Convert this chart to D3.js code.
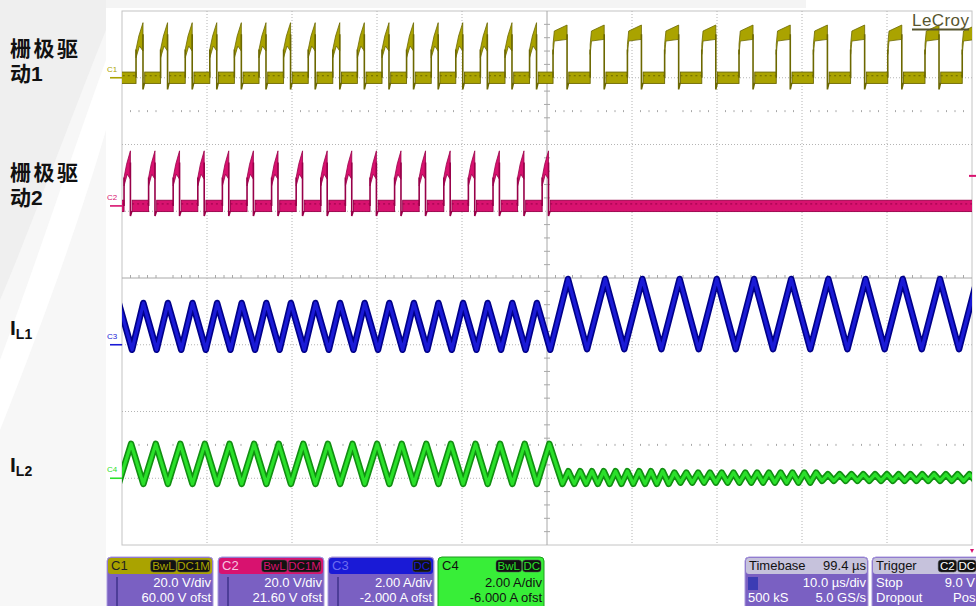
<!DOCTYPE html>
<html>
<head>
<meta charset="utf-8">
<script src="https://cdn.jsdelivr.net/npm/d3@7"></script>
<style>
  body { margin: 0; background: #fff; }
  svg { display: block; }
</style>
</head>
<body>
<div id="scope"></div>
<script>
// ---- channel setup ----
var chNames    = ["C1", "C2", "C3", "C4"];
var chPerDiv   = [20, 20, 2, 2];
var chOffset   = [60, 21.6, -2, -6];
var chUnit     = ["V", "V", "A", "A"];
var chCoupling = ["DC1M", "DC1M", "DC", "DC"];
var chBwl      = [true, true, false, true];
var chLabels   = [["栅极驱", "动1"], ["栅极驱", "动2"], ["I", "L1"], ["I", "L2"]];

// ---- gate drive 1 (C1): switching edges in us, trigger at 0 ----
var c1Rise = [-48.35, -45.46, -42.56, -39.67, -36.78, -33.88, -30.99, -28.09, -25.20, -22.31,
              -19.41, -16.52, -13.62, -10.73, -7.84, -4.94, -2.05,
              0.71, 5.08, 9.46, 13.84, 18.21, 22.59, 26.97, 31.34, 35.72, 40.09, 44.47, 48.85];
var c1Fall = [-47.53, -44.64, -41.74, -38.85, -35.96, -33.06, -30.17, -27.27, -24.38, -21.49,
              -18.59, -15.70, -12.80, -9.91, -7.02, -4.12, -1.23,
              2.36, 6.73, 11.11, 15.49, 19.86, 24.24, 28.62, 32.99, 37.37, 41.74, 46.12, 50.50];
// ---- gate drive 2 (C2) ----
var c2Rise = [-49.76, -46.87, -43.98, -41.08, -38.19, -35.29, -32.40, -29.51, -26.61, -23.72,
              -20.82, -17.93, -15.04, -12.14, -9.25, -6.35, -3.46, -0.57];
var c2Fall = [-49.01, -46.12, -43.23, -40.33, -37.44, -34.54, -31.65, -28.76, -25.86, -22.97,
              -20.07, -17.18, -14.29, -11.39, -8.50, -5.60, -2.71, 0.18];
var gateHigh = [15, 15];      // V, top of pulse
var gateUnder = [-3.5, -3];   // V, undershoot at turn-off

// ---- inductor current 1 (C3) ----
var il1PeakT = [-50.38, -47.49, -44.60, -41.70, -38.81, -35.92, -33.02, -30.13, -27.24, -24.34,
                -21.45, -18.55, -15.66, -12.77, -9.87, -6.98, -4.08, -1.19,
                2.47, 6.85, 11.22, 15.60, 19.97, 24.35, 28.73, 33.10, 37.48, 41.85, 46.23, 50.61];
var il1TroughT = [-48.82, -45.93, -43.03, -40.14, -37.24, -34.35, -31.46, -28.56, -25.67, -22.77,
                  -19.88, -16.99, -14.09, -11.20, -8.30, -5.41, -2.52, 0.38,
                  4.71, 9.09, 13.46, 17.84, 22.21, 26.59, 30.97, 35.34, 39.72, 44.09, 48.47];
var il1PeakA = [1.25, 1.97];      // before / after trigger
var il1TroughA = [-0.15, -0.13];

// ---- inductor current 2 (C4) ----
var il2PeakT = [-48.93, -46.03, -43.14, -40.25, -37.35, -34.46, -31.56, -28.67, -25.78, -22.88,
                -19.99, -17.09, -14.20, -11.31, -8.41, -5.52, -2.62, 0.27];
var il2TroughT = [-50.39, -47.49, -44.60, -41.71, -38.81, -35.92, -33.02, -30.13, -27.24, -24.34,
                  -21.45, -18.55, -15.66, -12.77, -9.87, -6.98, -4.08, -1.19];
var il2PeakA = 1.03, il2TroughA = -0.17;
// small ripple after gate 2 stops
var ripPeakT = [2.51, 3.90, 5.29, 6.67, 8.06, 9.45, 10.84, 12.23, 13.61, 15.00, 16.39, 17.78,
                19.17, 20.55, 21.94, 23.33, 24.72, 26.11, 27.49, 28.88, 30.27, 31.66, 33.05,
                34.43, 35.82, 37.21, 38.60, 39.99, 41.37, 42.76, 44.15, 45.54, 46.93, 48.31, 49.70];
var ripTroughT = [1.82, 3.21, 4.60, 5.98, 7.37, 8.76, 10.15, 11.54, 12.92, 14.31, 15.70, 17.09,
                  18.48, 19.86, 21.25, 22.64, 24.03, 25.42, 26.80, 28.19, 29.58, 30.97, 32.36,
                  33.74, 35.13, 36.52, 37.91, 39.30, 40.68, 42.07, 43.46, 44.85, 46.24, 47.62,
                  49.01, 50.40];
var ripBreaks = [0, 15, 32, 52];
var ripPeakA = [0.21, 0.17, 0.12];
var ripTroughA = [-0.17, -0.13, -0.08];

// readout boxes
var tbText = ["Timebase", "99.4 µs", "10.0 µs/div", "500 kS", "5.0 GS/s"];
var trigText = ["Trigger", "C2", "DC", "Stop", "9.0 V", "Dropout", "Pos"];

var width = 976, height = 606;
var colors = ["#aaa300", "#d8126f", "#1a1ad6", "#2ae02a"];
var darks  = ["#6c6800", "#980049", "#00008a", "#119011"];

var svg = d3.select("#scope").append("svg")
    .attr("width", width)
    .attr("height", height)
    .style("font-family", "'Liberation Sans', Arial, sans-serif");

// slide background on the left
svg.append("rect").attr("x", 0).attr("y", 0).attr("width", 106).attr("height", height).attr("fill", "#efefef");
svg.append("path")
    .attr("d", "M0,300 C30,230 70,120 106,30 L106,606 L0,606 Z")
    .attr("fill", "#f7f7f7");
svg.append("path")
    .attr("d", "M0,360 C30,280 70,160 106,60 L106,130 C80,220 40,330 0,430 Z")
    .attr("fill", "#ffffff");
svg.append("rect").attr("x", 106).attr("y", 0).attr("width", 700).attr("height", 8).attr("fill", "#f4f4f4");

// graticule
var gx0 = 122, gx1 = 972, gy0 = 11, gy1 = 545;
var x = d3.scaleLinear().domain([-50, 50]).range([gx0, gx1]);
var div = d3.scaleLinear().domain([-4, 4]).range([gy1, gy0]);
var xDiv = d3.scaleLinear().domain([-5, 5]).range([gx0, gx1]);

function chScale(i) {
    return d3.scaleLinear()
        .domain([-4 * chPerDiv[i] - chOffset[i], 4 * chPerDiv[i] - chOffset[i]])
        .range([gy1, gy0]);
}
var ys = chNames.map(function(d, i) { return chScale(i); });

var grid = svg.append("g").attr("class", "grid");
grid.append("rect")
    .attr("x", gx0).attr("y", gy0).attr("width", gx1 - gx0).attr("height", gy1 - gy0)
    .attr("fill", "#fff").attr("stroke", "#c4c4c4");

d3.range(-4, 5).filter(function(d) { return d !== 0; }).forEach(function(d) {
    grid.append("line")
        .attr("x1", xDiv(d)).attr("x2", xDiv(d)).attr("y1", gy0).attr("y2", gy1)
        .attr("stroke", "#b4b4b4").attr("stroke-dasharray", "1,2");
});
d3.range(-3, 4).filter(function(d) { return d !== 0; }).forEach(function(d) {
    grid.append("line")
        .attr("x1", gx0).attr("x2", gx1).attr("y1", div(d)).attr("y2", div(d))
        .attr("stroke", "#b4b4b4").attr("stroke-dasharray", "1,2");
});
// centre cross with minor ticks
grid.append("line").attr("x1", xDiv(0)).attr("x2", xDiv(0)).attr("y1", gy0).attr("y2", gy1).attr("stroke", "#a8a8a8");
grid.append("line").attr("x1", gx0).attr("x2", gx1).attr("y1", div(0)).attr("y2", div(0)).attr("stroke", "#a8a8a8");
d3.range(-50, 51).forEach(function(k) {
    var v = k / 5;
    if (k % 5 === 0) return;
    // ticks along the horizontal centre + the two tick rows
    [0, 2.5, -2.5].forEach(function(r) {
        grid.append("line")
            .attr("x1", xDiv(v / 2)).attr("x2", xDiv(v / 2))
            .attr("y1", div(r) - (r === 0 ? 3 : 1)).attr("y2", div(r) + (r === 0 ? 0 : 1))
            .attr("stroke", "#a8a8a8");
    });
});
d3.range(-20, 21).forEach(function(k) {
    if (k % 5 === 0) return;
    grid.append("line")
        .attr("x1", xDiv(0) - 3).attr("x2", xDiv(0) + 3)
        .attr("y1", div(k / 5)).attr("y2", div(k / 5))
        .attr("stroke", "#a8a8a8");
});

svg.append("clipPath").attr("id", "screen")
    .append("rect").attr("x", gx0).attr("y", gy0).attr("width", gx1 - gx0).attr("height", gy1 - gy0);
var traces = svg.append("g").attr("clip-path", "url(#screen)");

// ---- gate traces ----
function drawGate(ch, rise, fall, high, under) {
    var y = ys[ch];
    var g = traces.append("g");
    // flat low level (noisy band)
    var lows = [];
    var start = -50.5;
    rise.forEach(function(r, i) {
        lows.push([start, r]);
        start = fall[i] + 0.2;
    });
    lows.push([start, 51]);
    g.selectAll("rect.low").data(lows).enter().append("rect")
        .attr("class", "low")
        .attr("x", function(d) { return x(d[0]); })
        .attr("width", function(d) { return Math.max(0, x(d[1]) - x(d[0])); })
        .attr("y", y(1.7))
        .attr("height", y(-1.7) - y(1.7))
        .attr("fill", colors[ch])
        .attr("stroke", darks[ch])
        .attr("stroke-width", 0.9);
    g.selectAll("line.mid").data(lows).enter().append("line")
        .attr("x1", function(d) { return x(d[0]); })
        .attr("x2", function(d) { return x(d[1]); })
        .attr("y1", y(0.6)).attr("y2", y(0.6))
        .attr("stroke", darks[ch]).attr("stroke-width", 1).attr("stroke-dasharray", "2,3");

    rise.forEach(function(r, i) {
        var f = fall[i], w = f - r;
        var wide = w > 1.2;
        // top of the pulse
        var top = wide
            ? [[r, 10], [r + 0.15, 14], [f, 15.8], [f, 11.5], [r + 0.15, 11], [r, 7]]
            : [[r, 8.5], [r + 0.4 * w, 12.5], [f, 16.5], [f, 8], [r + 0.5 * w, 9.5], [r, 6]];
        g.append("path")
            .attr("d", d3.line().x(function(d) { return x(d[0]); }).y(function(d) { return y(d[1]); })(top) + "Z")
            .attr("fill", colors[ch])
            .attr("stroke", darks[ch])
            .attr("stroke-width", 0.8);
        // edges
        g.append("path")
            .attr("d", "M" + x(r) + "," + y(0) + "V" + y(8.5) +
                       "M" + x(f) + "," + y(high - 2) + "V" + y(under) + "L" + (x(f) + 1.5) + "," + y(-1.5))
            .attr("fill", "none")
            .attr("stroke", darks[ch])
            .attr("stroke-width", 1.6);
    });
}
drawGate(0, c1Rise, c1Fall, gateHigh[0], gateUnder[0]);
drawGate(1, c2Rise, c2Fall, gateHigh[1], gateUnder[1]);

// ---- current traces ----
function half(t) { return t < 1 ? 0 : 1; }
var il1Pts = il1PeakT.map(function(t) { return [t, il1PeakA[half(t)]]; })
    .concat(il1TroughT.map(function(t) { return [t, il1TroughA[half(t)]]; }))
    .sort(function(a, b) { return a[0] - b[0]; });

function ripIdx(t) { return d3.bisectRight(ripBreaks, t) - 1; }
var il2Pts = il2PeakT.map(function(t) { return [t, il2PeakA]; })
    .concat(il2TroughT.map(function(t) { return [t, il2TroughA]; }))
    .concat(ripPeakT.map(function(t) { return [t, ripPeakA[ripIdx(t)]]; }))
    .concat(ripTroughT.map(function(t) { return [t, ripTroughA[ripIdx(t)]]; }))
    .sort(function(a, b) { return a[0] - b[0]; });

function drawCurrent(ch, pts) {
    var line = d3.line()
        .x(function(d) { return x(d[0]); })
        .y(function(d) { return ys[ch](d[1]); });
    traces.append("path").attr("d", line(pts))
        .attr("fill", "none").attr("stroke", darks[ch])
        .attr("stroke-width", 6.5).attr("stroke-linejoin", "round");
    traces.append("path").attr("d", line(pts))
        .attr("fill", "none").attr("stroke", colors[ch])
        .attr("stroke-width", 3.2).attr("stroke-linejoin", "round");
}
drawCurrent(2, il1Pts);
drawCurrent(3, il2Pts);

// ground markers on the left edge
chNames.forEach(function(name, i) {
    var y0 = ys[i](0);
    svg.append("line")
        .attr("x1", 110).attr("x2", gx0).attr("y1", y0).attr("y2", y0)
        .attr("stroke", colors[i]).attr("stroke-width", 1.6);
    svg.append("text")
        .attr("x", 107).attr("y", y0 - 6)
        .attr("font-size", 8).attr("fill", colors[i])
        .text(name);
});
// trigger level marker (C2, 9.0 V) and LeCroy logo
svg.append("path")
    .attr("d", "M969," + ys[1](9) + "L976," + ys[1](9))
    .attr("stroke", colors[1]).attr("stroke-width", 2);
svg.append("path").attr("d", "M970,549 L974,549 L972,553 Z").attr("fill", colors[1]);
svg.append("text")
    .attr("x", 912).attr("y", 26)
    .attr("font-size", 17).attr("fill", "#57552f")
    .attr("textLength", 57)
    .text("LeCroy");
svg.append("line").attr("x1", 912).attr("x2", 969).attr("y1", 29.5).attr("y2", 29.5)
    .attr("stroke", "#57552f").attr("stroke-width", 1.8);

// left side labels (Latin font first so the line box stays compact)
var labelY = [[56, 81], [180, 205], [335], [472]];
chLabels.forEach(function(lab, i) {
    if (i < 2) {
        svg.append("text")
            .attr("x", 10).attr("y", labelY[i][0])
            .attr("font-family", "'Liberation Sans', 'Noto Sans CJK SC', sans-serif")
            .attr("font-weight", "bold").attr("font-size", 21).attr("letter-spacing", 2.5)
            .attr("fill", "#111")
            .text(lab[0]);
        svg.append("text")
            .attr("x", 10).attr("y", labelY[i][1])
            .attr("font-family", "'Liberation Sans', 'Noto Sans CJK SC', sans-serif")
            .attr("font-weight", "bold").attr("font-size", 21)
            .attr("fill", "#111")
            .text(lab[1]);
    } else {
        var t = svg.append("text")
            .attr("x", 10).attr("y", labelY[i][0])
            .attr("font-weight", "bold").attr("font-size", 21).attr("fill", "#111")
            .text(lab[0]);
        t.append("tspan").attr("dy", 4).attr("font-size", 14).text(lab[1]);
    }
});

// ---- readout boxes ----
var boxX = [107, 218, 328, 438], boxW = 106, boxY = 557;
var purple = "#7a60c2";
function badge(g, xr, txt, fg) {
    var w = txt.length * 7.2 + 4;
    g.append("rect").attr("x", xr - w).attr("y", boxY + 3).attr("width", w).attr("height", 12)
        .attr("rx", 3).attr("fill", "#111").attr("stroke", "#555").attr("stroke-width", 0.5);
    g.append("text").attr("x", xr - w / 2).attr("y", boxY + 13).attr("text-anchor", "middle")
        .attr("font-size", 11.5).attr("fill", fg).text(txt);
    return xr - w - 1;
}
function fmt(v, d) { return (v < 0 ? "-" : "") + Math.abs(v).toFixed(d); }
chNames.forEach(function(name, i) {
    var g = svg.append("g");
    var bx = boxX[i];
    var allGreen = i === 3;
    g.append("rect").attr("x", bx).attr("y", boxY).attr("width", boxW).attr("height", 60)
        .attr("rx", 4).attr("fill", allGreen ? "#38ee38" : purple)
        .attr("stroke", allGreen ? "#1c9c1c" : "#a898dc");
    g.append("rect").attr("x", bx + 1).attr("y", boxY + 1).attr("width", boxW - 2).attr("height", 16)
        .attr("rx", 3).attr("fill", allGreen ? "#38ee38" : colors[i]);
    if (!allGreen) {
        g.append("line").attr("x1", bx + 10).attr("x2", bx + 10).attr("y1", boxY + 20).attr("y2", height)
            .attr("stroke", "#4d3d98").attr("stroke-width", 2);
    }
    g.append("text").attr("x", bx + 4).attr("y", boxY + 13).attr("font-size", 13)
        .attr("fill", i === 0 ? "#222" : i === 3 ? "#111" : i === 1 ? "#f6c4e0" : "#6c6cf0").text(name);
    var xr = bx + boxW - 3;
    xr = badge(g, xr, chCoupling[i], colors[i]);
    if (chBwl[i]) badge(g, xr, "BwL", colors[i]);
    var fg = allGreen ? "#111" : "#fff";
    var volts = chUnit[i] === "V";
    g.append("text").attr("x", bx + boxW - 2).attr("y", boxY + 30).attr("text-anchor", "end")
        .attr("font-size", 13).attr("fill", fg)
        .text(fmt(chPerDiv[i], volts ? 1 : 2) + " " + chUnit[i] + "/div");
    g.append("text").attr("x", bx + boxW - 2).attr("y", boxY + 45).attr("text-anchor", "end")
        .attr("font-size", 13).attr("fill", fg)
        .text(fmt(chOffset[i], volts ? 2 : 3) + " " + chUnit[i] + " ofst");
});

// timebase box
var tb = svg.append("g");
tb.append("rect").attr("x", 745).attr("y", boxY).attr("width", 123).attr("height", 60).attr("rx", 4)
    .attr("fill", purple).attr("stroke", "#a898dc");
tb.append("rect").attr("x", 746).attr("y", boxY + 1).attr("width", 121).attr("height", 16).attr("rx", 3)
    .attr("fill", "#c6c2dc");
tb.append("rect").attr("x", 748).attr("y", boxY + 20).attr("width", 10).attr("height", 13)
    .attr("fill", "#3c3cb4");
tb.append("text").attr("x", 749).attr("y", boxY + 13).attr("font-size", 13).attr("fill", "#111").text(tbText[0]);
tb.append("text").attr("x", 866).attr("y", boxY + 13).attr("text-anchor", "end").attr("font-size", 13).attr("fill", "#111").text(tbText[1]);
tb.append("text").attr("x", 866).attr("y", boxY + 30).attr("text-anchor", "end").attr("font-size", 13).attr("fill", "#fff").text(tbText[2]);
tb.append("text").attr("x", 748).attr("y", boxY + 45).attr("font-size", 13).attr("fill", "#fff").text(tbText[3]);
tb.append("text").attr("x", 866).attr("y", boxY + 45).attr("text-anchor", "end").attr("font-size", 13).attr("fill", "#fff").text(tbText[4]);

// trigger box
var tr = svg.append("g");
tr.append("rect").attr("x", 872).attr("y", boxY).attr("width", 110).attr("height", 60).attr("rx", 4)
    .attr("fill", purple).attr("stroke", "#a898dc");
tr.append("rect").attr("x", 873).attr("y", boxY + 1).attr("width", 108).attr("height", 16).attr("rx", 3)
    .attr("fill", "#c6c2dc");
tr.append("text").attr("x", 876).attr("y", boxY + 13).attr("font-size", 13).attr("fill", "#111").text(trigText[0]);
var tx = badge(tr, 976, trigText[2], "#fff");
badge(tr, tx, trigText[1], "#fff");
tr.append("text").attr("x", 876).attr("y", boxY + 30).attr("font-size", 13).attr("fill", "#fff").text(trigText[3]);
tr.append("text").attr("x", 975).attr("y", boxY + 30).attr("text-anchor", "end").attr("font-size", 13).attr("fill", "#fff").text(trigText[4]);
tr.append("text").attr("x", 876).attr("y", boxY + 45).attr("font-size", 13).attr("fill", "#fff").text(trigText[5]);
tr.append("text").attr("x", 953).attr("y", boxY + 45).attr("font-size", 13).attr("fill", "#fff").text(trigText[6]);
</script>
</body>
</html>
